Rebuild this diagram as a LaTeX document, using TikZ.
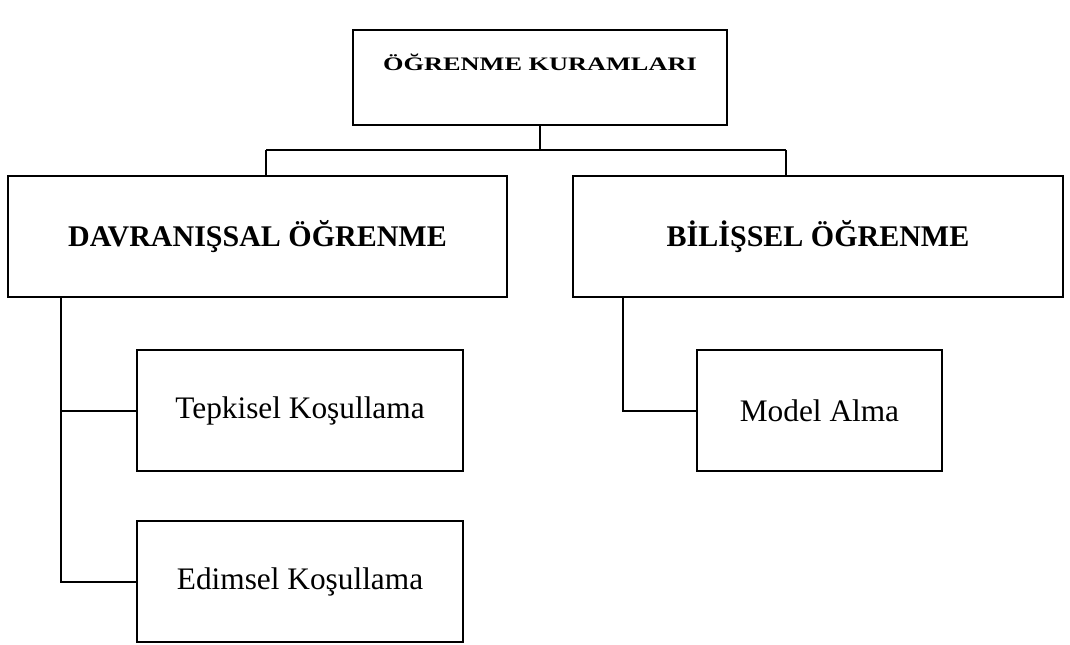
\documentclass[tikz,border=0pt]{standalone}
\usepackage{fontspec}
\setmainfont{Liberation Serif}
\begin{document}
\begin{tikzpicture}[x=0.75pt,y=-0.75pt,
  box/.style={draw=black,line width=1.5pt,fill=white,rectangle,inner sep=0pt},
  conn/.style={draw=black,line width=1.5pt},
  headtxt/.style={font=\bfseries\fontsize{22.5pt}{26pt}\selectfont},
  leaftxt/.style={font=\fontsize{23.5pt}{27pt}\selectfont}]
\useasboundingbox (0,0) rectangle (1070,645);
% boxes
\node[box,minimum width=374*0.75pt,minimum height=95*0.75pt,text height=10pt,text depth=20pt,
  font=\bfseries\fontsize{14.3pt}{17pt}\selectfont] (top) at (540,77.5)
  {\scalebox{1.38}[1]{ÖĞRENME KURAMLARI}};
\node[box,headtxt,minimum width=499*0.75pt,minimum height=121*0.75pt] (dav) at (257.5,236.5) {DAVRANIŞSAL ÖĞRENME};
\node[box,headtxt,minimum width=490*0.75pt,minimum height=121*0.75pt] (bil) at (818,236.5) {BİLİŞSEL ÖĞRENME};
\node[box,leaftxt,minimum width=326*0.75pt,minimum height=121*0.75pt] (tep) at (300,410.5) {Tepkisel Koşullama};
\node[box,leaftxt,minimum width=326*0.75pt,minimum height=121*0.75pt] (edim) at (300,581.5) {Edimsel Koşullama};
\node[box,leaftxt,minimum width=245*0.75pt,minimum height=121*0.75pt] (model) at (819.5,410.5) {Model Alma};
% junction coordinates
\coordinate (j) at (540,150);
\coordinate (jl) at (266,150);
\coordinate (jr) at (786,150);
\coordinate (dl) at (61,0);
\coordinate (br) at (623,0);
% connectors
\draw[conn] (top.south) -- (j);
\draw[conn] (jl) -- (jr);
\draw[conn] (jl) -- (jl |- dav.north);
\draw[conn] (jr) -- (jr |- bil.north);
\draw[conn] (dav.south -| dl) |- (edim.west);
\draw[conn] (tep.west -| dl) -- (tep.west);
\draw[conn] (bil.south -| br) |- (model.west);
\end{tikzpicture}
\end{document}
